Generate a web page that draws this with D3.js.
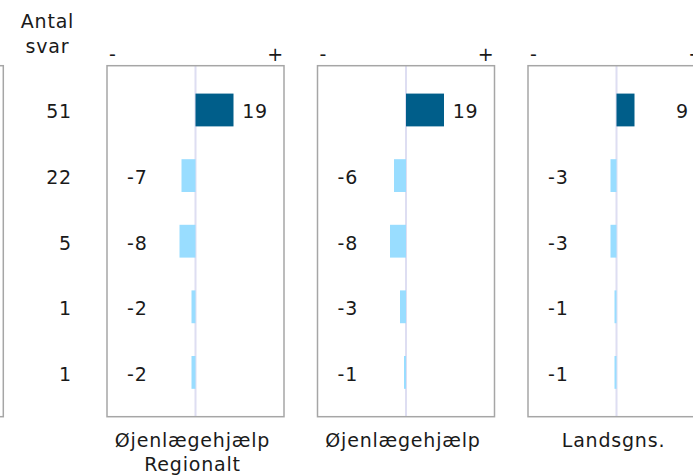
<!DOCTYPE html>
<html>
<head>
<meta charset="utf-8">
<script src="https://cdn.jsdelivr.net/npm/d3@7"></script>
<style>
  html, body { margin: 0; padding: 0; background: #ffffff; }
  svg { display: block; }
  text { font-family: "DejaVu Sans", Verdana, sans-serif; font-size: 19px; fill: #1a1a1a; letter-spacing: 0.8px; }
</style>
</head>
<body>
<svg id="chart" width="693" height="476"></svg>
<script>
// ---- data ----
const rows = ["r1", "r2", "r3", "r4", "r5"];
const antalSvar = [51, 22, 5, 1, 1];
const panelLabels = [["Øjenlægehjælp", "Regionalt"], ["Øjenlægehjælp"], ["Landsgns."]];
const regionaltValues = [19, -7, -8, -2, -2];
const ojenlaegeValues = [19, -6, -8, -3, -1];
const landsgnsValues = [9, -3, -3, -1, -1];
const seriesValues = [regionaltValues, ojenlaegeValues, landsgnsValues];
const countHeader = ["Antal", "svar"];

// ---- layout ----
const svg = d3.select("#chart");
const panelTop = 65.7, panelBottom = 416.7;
const panelW = 177, panelPitch = 210.5, firstLeft = 107;
const dark = "#005e8a", light = "#99ddff";

const y = d3.scaleBand().domain(rows).range([panelTop, panelBottom])
  .paddingInner(0.5).paddingOuter(0.425);

// partial panel at left (cut off at the picture's edge)
svg.append("rect")
  .attr("x", 3.3 - panelW).attr("y", panelTop)
  .attr("width", panelW).attr("height", panelBottom - panelTop)
  .attr("fill", "none").attr("stroke", "#a6a6a6").attr("stroke-width", 1.5);

// count column
svg.selectAll("text.hdr").data(countHeader).join("text")
  .attr("class", "hdr").attr("x", 47.5).attr("y", (d, i) => 28 + i * 25)
  .attr("text-anchor", "middle").text(d => d);

svg.selectAll("text.cnt").data(antalSvar).join("text")
  .attr("class", "cnt").attr("x", 72)
  .attr("y", (d, i) => y(rows[i]) + y.bandwidth() / 2 + 8.5)
  .attr("text-anchor", "end").text(d => d);

seriesValues.forEach((vals, p) => {
  const left = firstLeft + p * panelPitch;
  const x = d3.scaleLinear().domain([-44.25, 44.25]).range([left, left + panelW]);
  const g = svg.append("g");

  // zero line
  g.append("line")
    .attr("x1", x(0)).attr("x2", x(0))
    .attr("y1", panelTop).attr("y2", panelBottom)
    .attr("stroke", "#dedef2").attr("stroke-width", 2);

  // bars
  g.selectAll("rect.bar").data(vals).join("rect")
    .attr("class", "bar")
    .attr("x", d => x(Math.min(0, d)))
    .attr("width", d => Math.abs(x(d) - x(0)))
    .attr("y", (d, i) => y(rows[i]))
    .attr("height", y.bandwidth())
    .attr("fill", (d, i) => i === 0 ? dark : light);

  // value labels
  g.selectAll("text.val").data(vals).join("text")
    .attr("class", "val")
    .attr("x", d => d >= 0 ? left + panelW - 16 : left + 20)
    .attr("y", (d, i) => y(rows[i]) + y.bandwidth() / 2 + 8.5)
    .attr("text-anchor", d => d >= 0 ? "end" : "start")
    .text(d => d);

  // border
  g.append("rect")
    .attr("x", left).attr("y", panelTop)
    .attr("width", panelW).attr("height", panelBottom - panelTop)
    .attr("fill", "none").attr("stroke", "#a6a6a6").attr("stroke-width", 1.5);

  // - and + signs
  g.append("text").attr("x", left + 2).attr("y", 61).attr("text-anchor", "start").text("-");
  g.append("text").attr("x", left + panelW).attr("y", 61).attr("text-anchor", "end").text("+");

  // panel label
  g.selectAll("text.lbl").data(panelLabels[p]).join("text")
    .attr("class", "lbl").attr("x", x(0) - 3)
    .attr("y", (d, i) => 447 + i * 24)
    .attr("text-anchor", "middle").text(d => d);
});
</script>
</body>
</html>
